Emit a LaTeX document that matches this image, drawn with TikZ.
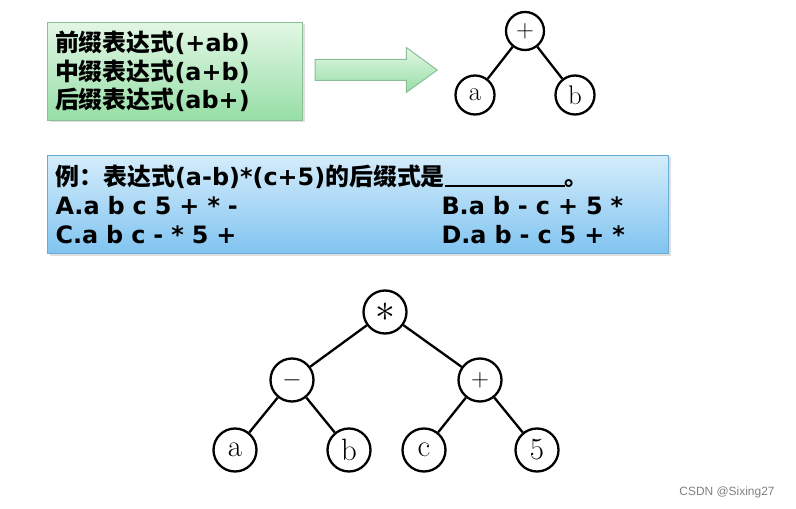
\documentclass[tikz,border=0pt]{standalone}
\usepackage{fontspec}
\usepackage{graphicx}
\setmainfont{DejaVu Sans}
\newfontfamily\cjk{Noto Sans CJK SC}
\newfontfamily\lmr{Latin Modern Roman}
\newfontfamily\wmfont{Liberation Sans}
\newcommand\zh[1]{{\cjk\bfseries #1}}
\usetikzlibrary{shapes.arrows,shadows}

\definecolor{greentop}{RGB}{226,247,229}
\definecolor{greenbot}{RGB}{150,222,166}
\definecolor{greenline}{RGB}{140,190,150}
\definecolor{bluetop}{RGB}{212,236,251}
\definecolor{bluebot}{RGB}{128,196,240}
\definecolor{blueline}{RGB}{105,170,215}

\tikzset{
  greenbox/.style={draw=greenline, line width=1bp, top color=greentop, bottom color=greenbot,
    drop shadow={shadow xshift=2bp, shadow yshift=-2bp, opacity=0.25}},
  bluebox/.style={draw=blueline, line width=1bp, top color=bluetop, bottom color=bluebot,
    drop shadow={shadow xshift=2bp, shadow yshift=-2bp, opacity=0.25}},
  treenode/.style={circle, draw, line width=2.3bp, fill=white, inner sep=0pt, minimum size=#1},
  edge/.style={line width=2.3bp}
}

\begin{document}
\begin{tikzpicture}[x=1bp, y=-1bp]
  \useasboundingbox[fill=white] (0,0) rectangle (796,509);

  % top left box and arrow
  \node[greenbox, anchor=north west, minimum width=255bp, minimum height=98bp,
        text width=240bp, inner xsep=7bp, align=left,
        font=\bfseries\fontsize{24}{28.5}\selectfont] (prebox) at (47,22)
    {\zh{前缀表达式}(+ab)\\\zh{中缀表达式}(a+b)\\\zh{后缀表达式}(ab+)};
  \node[single arrow, draw=greenline, line width=1bp, top color=greentop, bottom color=greenbot,
        minimum width=44bp, minimum height=122bp, single arrow head extend=12bp,
        single arrow tip angle=72, inner xsep=0pt, inner ysep=10bp,
        text height=0pt, text depth=0pt] (toarrow) at (369,70) {};

  % small tree
  \node[treenode=38bp, font=\fontsize{27}{27}\selectfont] (plus) at (525,31) {$+$};
  \node[treenode=39bp, font=\lmr\fontsize{27}{27}\selectfont] (pa) at (475,95) {a};
  \node[treenode=39bp, font=\lmr\fontsize{27}{27}\selectfont] (pb) at (575,95) {b};
  \draw[edge] (plus) -- (pa);
  \draw[edge] (plus) -- (pb);

  % question box
  \node[bluebox, anchor=north west, minimum width=621bp, minimum height=98bp,
        text width=605bp, inner xsep=8bp, align=left,
        font=\bfseries\fontsize{24}{29}\selectfont] (qbox) at (47,155)
    {\zh{例：表达式}(a-b)*(c+5)\zh{的后缀式是}\rule[-1bp]{120bp}{1.5bp}\zh{。}\\
     \makebox[386bp][l]{A.a b c 5 + * -}B.a b - c + 5 *\\
     \makebox[386bp][l]{C.a b c - * 5 +}D.a b - c 5 + *};

  % expression tree
  \tikzset{every node/.append style={font=\lmr\fontsize{31}{31}\selectfont}}
  \node[treenode=43bp] (times) at (385,312) {\scalebox{1.6}{$\ast$}};
  \node[treenode=43bp] (minus) at (292,380) {$-$};
  \node[treenode=43bp] (add) at (480,380) {$+$};
  \node[treenode=43bp] (la) at (235,450) {a};
  \node[treenode=43bp] (lb) at (349,450) {b};
  \node[treenode=43bp] (lc) at (424,450) {c};
  \node[treenode=43bp] (l5) at (537,450) {5};
  \draw[edge] (times) -- (minus);
  \draw[edge] (times) -- (add);
  \draw[edge] (minus) -- (la);
  \draw[edge] (minus) -- (lb);
  \draw[edge] (add) -- (lc);
  \draw[edge] (add) -- (l5);

  \node[text=gray, font=\wmfont\fontsize{12}{12}\selectfont] (mark) at (727,492) {CSDN @Sixing27};
\end{tikzpicture}
\end{document}
